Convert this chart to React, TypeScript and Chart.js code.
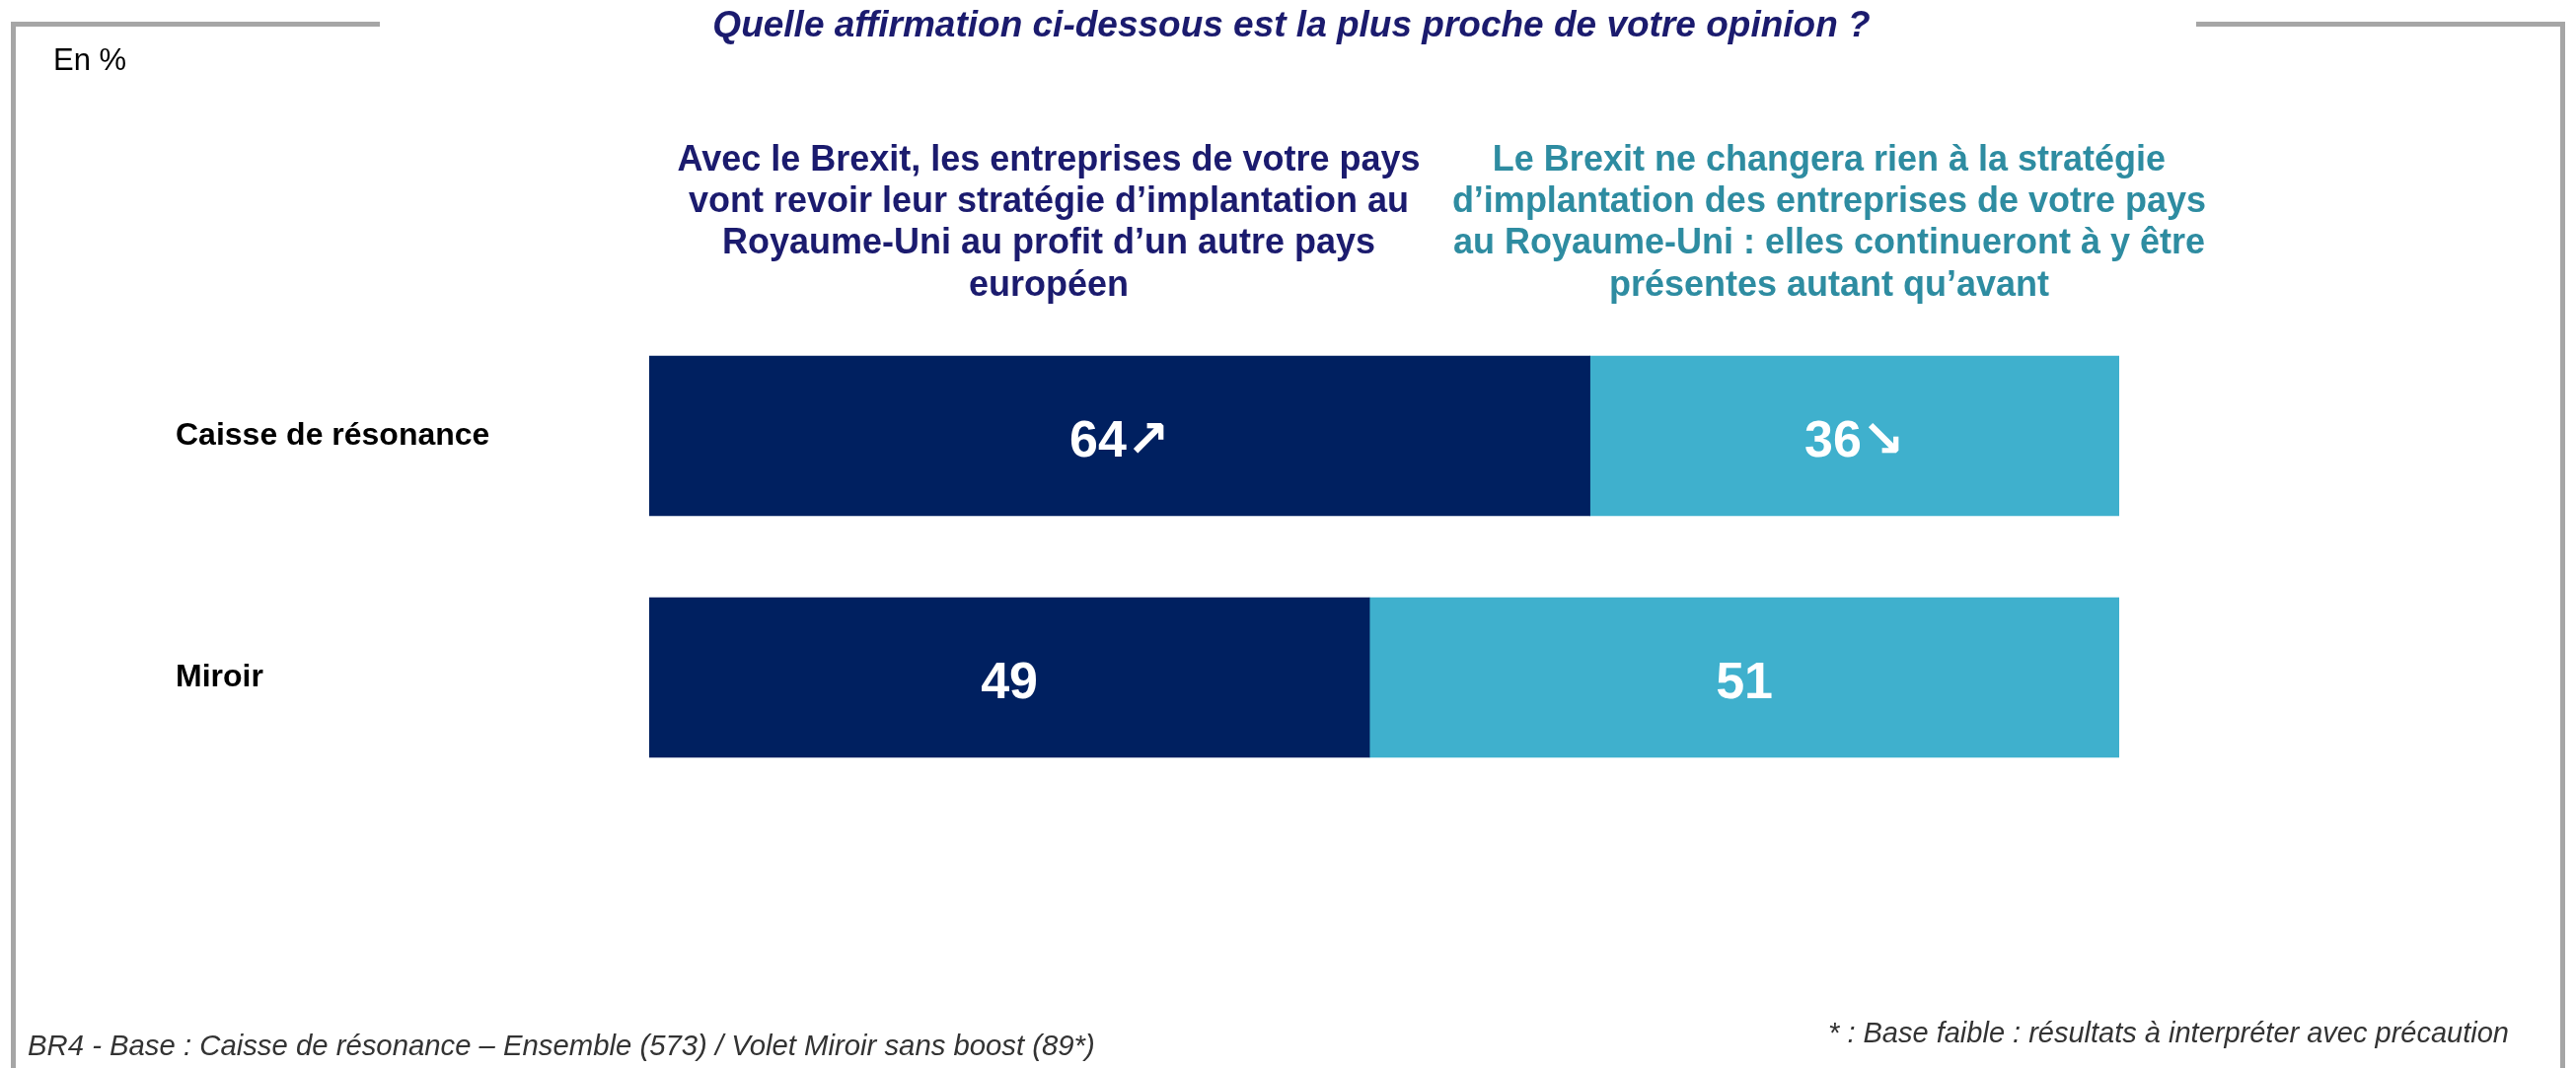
import React, { useEffect, useRef } from 'react';
import { Chart, registerables } from 'chart.js';

Chart.register(...registerables);

// ---- data ----
const categories = ['Caisse de résonance', 'Miroir'];
const changeValues = [64, 49];
const noChangeValues = [36, 51];
const changeArrows = ['↗', ''];
const noChangeArrows = ['↘', ''];
const seriesNames = [
  "Avec le Brexit, les entreprises de votre pays vont revoir leur stratégie d’implantation au Royaume-Uni au profit d’un autre pays européen",
  "Le Brexit ne changera rien à la stratégie d’implantation des entreprises de votre pays au Royaume-Uni : elles continueront à y être présentes autant qu’avant",
];
const headerLeftLines = [
  'Avec le Brexit, les entreprises de votre pays',
  'vont revoir leur stratégie d’implantation au',
  'Royaume-Uni au profit d’un autre pays',
  'européen',
];
const headerRightLines = [
  'Le Brexit ne changera rien à la stratégie',
  'd’implantation des entreprises de votre pays',
  'au Royaume-Uni : elles continueront à y être',
  'présentes autant qu’avant',
];
const titleText = 'Quelle affirmation ci-dessous est la plus proche de votre opinion ?';
const unitText = 'En %';
const footLeftText = 'BR4 - Base : Caisse de résonance – Ensemble (573) / Volet Miroir sans boost (89*)';
const footRightText = '* : Base faible : résultats à interpréter avec précaution';

// ---- style ----
const W = 2611;
const H = 1083;
const FONT = '"Liberation Sans", Arial, Helvetica, "DejaVu Sans", sans-serif';
const NAVY_BAR = '#002060';
const LIGHT_BAR = '#3FB0CD';
const TITLE_COLOR = '#1B1B6E';
const RIGHT_HEAD_COLOR = '#2E8CA1';
const FRAME = '#A6A6A6';

const dataLabelPlugin = {
  id: 'dataLabels',
  afterDatasetsDraw(chart: any) {
    const ctx = chart.ctx;
    ctx.save();
    ctx.font = `bold 52px ${FONT}`;
    ctx.fillStyle = '#FFFFFF';
    ctx.textAlign = 'center';
    ctx.textBaseline = 'alphabetic';
    chart.data.datasets.forEach((ds: any, di: number) => {
      const meta = chart.getDatasetMeta(di);
      meta.data.forEach((bar: any, i: number) => {
        const { x, y, base } = bar.getProps(['x', 'y', 'base'], true);
        const txt = String(ds.data[i]) + (ds.arrows[i] || '');
        ctx.fillText(txt, (x + base) / 2, y + 21);
      });
    });
    ctx.restore();
  },
};

export default function App() {
  const canvasRef = useRef<HTMLCanvasElement>(null);

  useEffect(() => {
    const chart = new Chart(canvasRef.current as HTMLCanvasElement, {
      type: 'bar',
      data: {
        labels: categories,
        datasets: [
          {
            label: seriesNames[0],
            data: changeValues,
            backgroundColor: NAVY_BAR,
            borderWidth: 0,
            barThickness: 162,
            arrows: changeArrows,
          } as any,
          {
            label: seriesNames[1],
            data: noChangeValues,
            backgroundColor: LIGHT_BAR,
            borderWidth: 0,
            barThickness: 162,
            arrows: noChangeArrows,
          } as any,
        ],
      },
      options: {
        indexAxis: 'y',
        responsive: false,
        maintainAspectRatio: false,
        devicePixelRatio: 1,
        animation: false,
        layout: { padding: { left: 178, right: 463, top: 319.5, bottom: 273.5 } },
        plugins: {
          legend: { display: false },
          tooltip: { enabled: false },
          title: { display: false },
        },
        scales: {
          x: { stacked: true, min: 0, max: 100, display: false },
          y: {
            stacked: true,
            grid: { display: false },
            border: { display: false },
            afterFit: (s: any) => {
              s.width = 480;
            },
            ticks: {
              crossAlign: 'far',
              padding: 0,
              color: '#000000',
              font: { family: FONT, size: 32, weight: 'bold' },
            },
          },
        },
      },
      plugins: [dataLabelPlugin],
    } as any);
    return () => chart.destroy();
  }, []);

  const lineStyle: React.CSSProperties = { whiteSpace: 'nowrap', height: 42.2 };

  return (
    <div
      style={{
        position: 'absolute',
        left: 0,
        top: 0,
        width: W,
        height: H,
        background: '#FFFFFF',
        overflow: 'hidden',
        fontFamily: FONT,
      }}
    >
      <canvas
        ref={canvasRef}
        width={W}
        height={H}
        style={{ position: 'absolute', left: 0, top: 0, width: W, height: H }}
      />
      {/* frame */}
      <div style={{ position: 'absolute', left: 11, top: 22, width: 374, height: 5, background: FRAME }} />
      <div style={{ position: 'absolute', left: 11, top: 22, width: 5, height: H - 22, background: FRAME }} />
      <div style={{ position: 'absolute', left: 2226, top: 22, width: 374, height: 5, background: FRAME }} />
      <div style={{ position: 'absolute', left: 2595, top: 22, width: 5, height: H - 22, background: FRAME }} />

      {/* title */}
      <div
        style={{
          position: 'absolute',
          left: 1309,
          top: 6,
          transform: 'translateX(-50%)',
          whiteSpace: 'nowrap',
          fontSize: 37,
          lineHeight: '37px',
          fontWeight: 'bold',
          fontStyle: 'italic',
          color: TITLE_COLOR,
        }}
      >
        {titleText}
      </div>

      {/* unit */}
      <div
        style={{
          position: 'absolute',
          left: 54,
          top: 44.5,
          fontSize: 31,
          lineHeight: '31px',
          color: '#000000',
          whiteSpace: 'nowrap',
        }}
      >
        {unitText}
      </div>

      {/* headers */}
      <div
        style={{
          position: 'absolute',
          left: 1063 - 600,
          top: 140,
          width: 1200,
          textAlign: 'center',
          fontSize: 36,
          lineHeight: '42.2px',
          fontWeight: 'bold',
          color: TITLE_COLOR,
        }}
      >
        {headerLeftLines.map((l, i) => (
          <div key={i} style={lineStyle}>
            {l}
          </div>
        ))}
      </div>
      <div
        style={{
          position: 'absolute',
          left: 1854 - 600,
          top: 140,
          width: 1200,
          textAlign: 'center',
          fontSize: 36,
          lineHeight: '42.2px',
          fontWeight: 'bold',
          color: RIGHT_HEAD_COLOR,
        }}
      >
        {headerRightLines.map((l, i) => (
          <div key={i} style={lineStyle}>
            {l}
          </div>
        ))}
      </div>

      {/* footnotes */}
      <div
        style={{
          position: 'absolute',
          left: 28,
          top: 1044.5,
          fontSize: 29.3,
          lineHeight: '29px',
          fontStyle: 'italic',
          color: '#333333',
          whiteSpace: 'nowrap',
        }}
      >
        {footLeftText}
      </div>
      <div
        style={{
          position: 'absolute',
          right: W - 2543,
          top: 1032.5,
          fontSize: 29,
          lineHeight: '29px',
          fontStyle: 'italic',
          color: '#333333',
          whiteSpace: 'nowrap',
          textAlign: 'right',
        }}
      >
        {footRightText}
      </div>
    </div>
  );
}
